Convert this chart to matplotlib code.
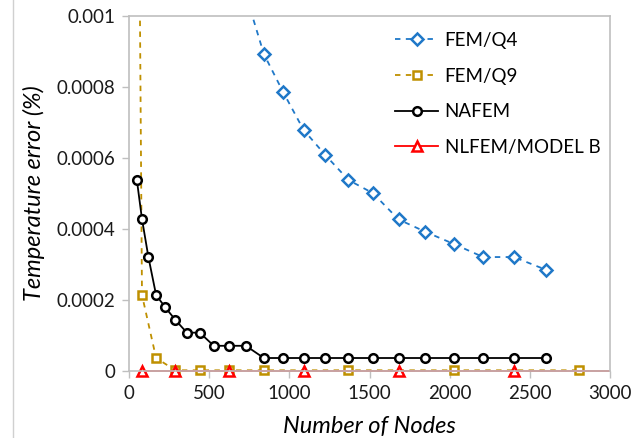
import numpy as np
import matplotlib
matplotlib.use('Agg')
import matplotlib.pyplot as plt
from matplotlib.lines import Line2D
from matplotlib.patches import Rectangle

plt.rcParams['font.family'] = ['Lato', 'DejaVu Sans']

# data
q4_nodes = [729, 841, 961, 1089, 1225, 1369, 1521, 1681, 1849, 2025, 2209, 2401, 2601]
q4_err = [0.00106, 0.000893, 0.000786, 0.000679, 0.000608, 0.000538, 0.000501,
          0.000427, 0.000392, 0.000358, 0.000321, 0.000321, 0.000285]

q9_nodes = [25, 81, 169, 289, 441, 625, 841, 1369, 2025, 2809]
q9_err = [0.0037, 0.000214, 0.0000366, 2e-6, 2e-6, 2e-6, 2e-6, 2e-6, 2e-6, 2e-6]

nafem_nodes = [49, 81, 121, 169, 225, 289, 361, 441, 529, 625, 729, 841, 961,
               1089, 1225, 1369, 1521, 1681, 1849, 2025, 2209, 2401, 2601]
nafem_err = [0.000538, 0.000428, 0.000321, 0.000214, 0.00018, 0.000144, 0.000108,
             0.000108, 0.000071, 0.000071, 0.000071, 0.0000366, 0.0000366,
             0.0000366, 0.0000366, 0.0000366, 0.0000366, 0.0000366, 0.0000366,
             0.0000366, 0.0000366, 0.0000366, 0.0000366]

nlfem_nodes = [81, 289, 625, 1089, 1681, 2401, 3249]
nlfem_err = [1e-6, 1e-6, 1e-6, 1e-6, 1e-6, 1e-6, 1e-6]

fig = plt.figure(figsize=(6.39, 4.38), dpi=100)
ax = fig.add_axes([129/639, 1 - 371/438, (610 - 129)/639, (371 - 16)/438])

series = [
    (q4_nodes, q4_err, '#1F78C8', (0, (3, 3)), 'D', 6.2, 'FEM/Q4'),
    (q9_nodes, q9_err, '#BF9000', (0, (3, 3)), 's', 6.2, 'FEM/Q9'),
    (nafem_nodes, nafem_err, 'black', '-', 'o', 6.2, 'NAFEM'),
    (nlfem_nodes, nlfem_err, '#FF0000', '-', '^', 7.2, 'NLFEM/MODEL B'),
]
# clip to the plot area, but let markers sitting on zero show fully
clip = Rectangle((0, -0.04), 1, 1.04, transform=ax.transAxes, visible=False)
ax.add_patch(clip)
for xs, ys, c, ls, m, ms, lab in series:
    ln, = ax.plot(xs, ys, color=c, ls=ls, lw=1.3, marker=m, ms=ms,
                  mfc='white', mec=c, mew=1.8, label=lab)
    ln.set_clip_path(clip)

ax.set_xlim(0, 3000)
ax.set_ylim(0, 0.001)
ax.set_xticks([0, 500, 1000, 1500, 2000, 2500, 3000])
ax.set_yticks([0, 0.0002, 0.0004, 0.0006, 0.0008, 0.001])
ax.set_yticklabels(['0', '0.0002', '0.0004', '0.0006', '0.0008', '0.001'])

for s in ax.spines.values():
    s.set_color('#BFBFBF')
    s.set_linewidth(1.2)
ax.tick_params(direction='out', length=5, width=1, color='#BFBFBF',
               labelsize=13.5, labelcolor='#1A1A1A', pad=5)

ax.set_xlabel('Number of Nodes', fontsize=17, style='italic', labelpad=10)
ax.set_ylabel('Temperature error (%)', fontsize=17, style='italic', labelpad=8)

ax.legend(loc='upper left', bbox_to_anchor=(0.518, 1.003), frameon=False,
          fontsize=13.5, handlelength=2.3, labelspacing=1.0, handletextpad=0.35)

fig.add_artist(Line2D([13/639, 13/639], [0, 1], color='#D0D0D0', lw=1))

fig.savefig('out.png', dpi=100)
